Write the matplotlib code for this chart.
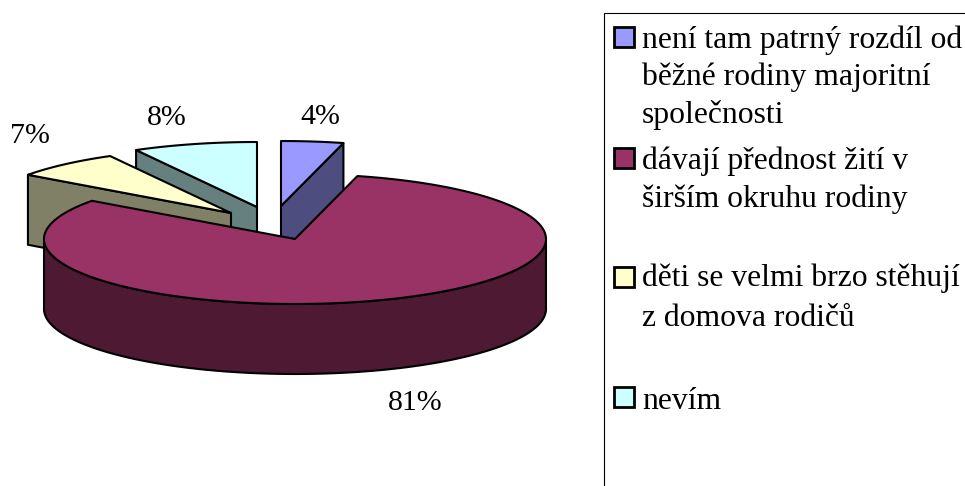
import numpy as np
import matplotlib
matplotlib.use("Agg")
import matplotlib.pyplot as plt
from matplotlib.patches import Polygon, Rectangle

categories = ["není tam patrný rozdíl od\nběžné rodiny majoritní\nspolečnosti",
              "dávají přednost žití v\nširším okruhu rodiny",
              "děti se velmi brzo stěhují\nz domova rodičů",
              "nevím"]
values = [4, 81, 7, 8]
value_labels = ["4%", "81%", "7%", "8%"]

top_colors = ["#9999FF", "#993366", "#FFFFCC", "#CCFFFF"]
side_colors = ["#4D4D80", "#4D1933", "#808066", "#668080"]
centers = [(281, 206), (295, 239), (231, 213), (257, 207)]
label_pos = [(320, 124), (415, 410), (30, 143), (167, 125)]
key_tops = [27, 148, 267, 387]
text_base = [48, 169, 286, 409]
line_pitch = [37.5, 38, 40, 38]
A, B, DEPTH = 251, 65, 70
LW = 1.5
FONT = "Liberation Serif"

fig = plt.figure(figsize=(9.65, 4.86), dpi=100)
ax = fig.add_axes([0, 0, 1, 1])
ax.set_xlim(0, 965)
ax.set_ylim(486, 0)
ax.axis("off")

fr = np.cumsum([0] + values) / sum(values) * 2 * np.pi


def pt(c, t, dz=0):
    t = np.asarray(t)
    return np.column_stack([c[0] + A * np.sin(t), c[1] - B * np.cos(t) + dz])


def poly(xy, color, z):
    ax.add_patch(Polygon(xy, closed=True, fc=color, ec="black", lw=LW, joinstyle="round", zorder=z))


def wedge(i, z):
    c = centers[i]
    t0, t1 = fr[i], fr[i + 1]
    ts = np.linspace(t0, t1, 200)
    apex = np.array([c])
    # only the cut face turned towards the viewer is drawn
    if t1 - t0 < np.pi:
        t = t1 if t1 < np.pi else t0
        e = pt(c, [t])[0]
        poly([c, e, e + [0, DEPTH], (c[0], c[1] + DEPTH)], side_colors[i], z)
    # outer rim (front half only)
    front = ts[(np.cos(ts) < 0)]
    if len(front):
        poly(np.vstack([pt(c, front), pt(c, front[::-1], DEPTH)]), side_colors[i], z)
    poly(np.vstack([apex, pt(c, ts)]), top_colors[i], z + 0.5)


for z, i in enumerate([3, 2, 0, 1]):
    wedge(i, z + 2)

for (x, y), s in zip(label_pos, value_labels):
    ax.text(x, y, s, family=FONT, fontsize=21.5, ha="center", va="baseline", color="black")

# legend frame (runs off the right and bottom edges)
ax.plot([965, 604, 604], [13, 13, 485], color="black", lw=0.8, solid_joinstyle="miter", zorder=1)
for i, cat in enumerate(categories):
    ax.add_patch(Rectangle((613.5, key_tops[i]), 20, 20, fc=top_colors[i], ec="black", lw=2, zorder=3))
    for j, line in enumerate(cat.split("\n")):
        ax.text(642, text_base[i] + j * line_pitch[i], line, family=FONT, fontsize=22.8, ha="left", va="baseline", color="black")

fig.savefig("out.png", dpi=100)
